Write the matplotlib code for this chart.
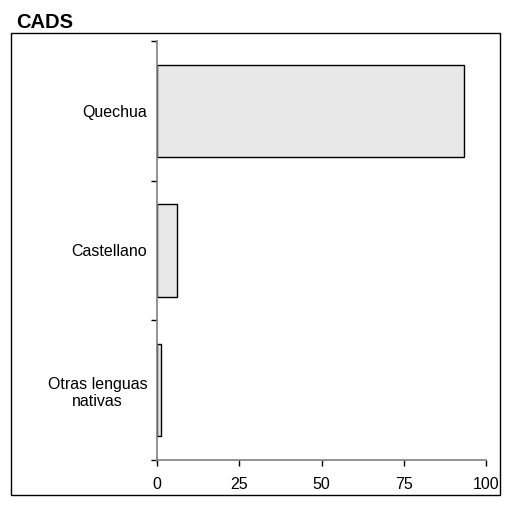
import matplotlib
matplotlib.use("Agg")
import matplotlib.pyplot as plt
from matplotlib.patches import Rectangle
from matplotlib.ticker import FixedLocator

plt.rcParams['font.family'] = ['Liberation Sans', 'DejaVu Sans']

categories = ["Quechua", "Castellano", "Otras lenguas\nnativas"]
values = [93.4, 6.0, 1.3]
xticks = [0, 25, 50, 75, 100]

fig = plt.figure(figsize=(5.09, 5.07), dpi=100)
ax = fig.add_axes([157/509, 1-460/507, (486-157)/509, (460-41)/507])

pos = list(range(len(categories)))
ax.barh(pos, values, height=0.66, color="#e8e8e8", edgecolor="black", linewidth=1)
ax.set_ylim(2.5, -0.5)
ax.set_xlim(0, 100)
ax.set_xticks(xticks)
ax.set_xticklabels([str(t) for t in xticks])
ax.set_yticks(pos)
ax.set_yticklabels(categories, ha='right', multialignment='center')
ax.yaxis.set_minor_locator(FixedLocator([-0.5, 0.5, 1.5, 2.5]))
ax.tick_params(axis='y', which='major', length=0, pad=7, labelsize=11.5)
ax.tick_params(axis='y', which='minor', length=4, width=1, color='black')
ax.tick_params(axis='x', length=4, width=1, labelsize=11.5, pad=8)
for s in ['top', 'right']:
    ax.spines[s].set_visible(False)
ax.spines['left'].set_color('#808080')
ax.spines['bottom'].set_color('#808080')
ax.spines['left'].set_linewidth(1.2)
ax.spines['bottom'].set_linewidth(1.2)

fig.patches.append(Rectangle((11/509, 1-495/507), 489/509, 462/507,
                             transform=fig.transFigure, fill=False,
                             edgecolor='black', linewidth=1))
fig.text(16/509, 1-28/507, "CADS", fontsize=14.5, fontweight='bold', ha='left', va='baseline')

fig.savefig("out.png", dpi=100)
